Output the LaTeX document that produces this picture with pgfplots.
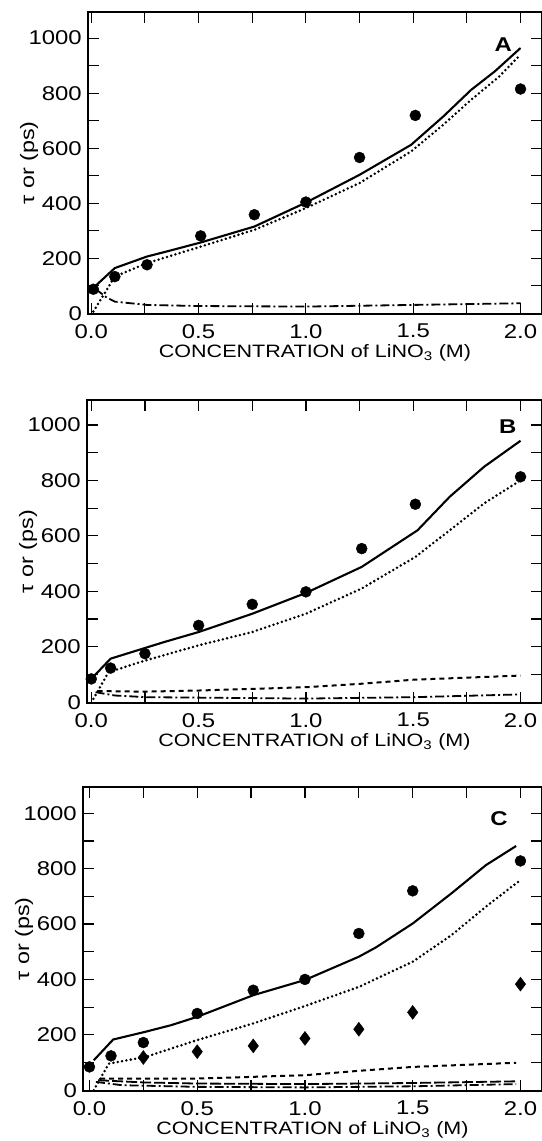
\documentclass[border=0pt]{standalone}
\usepackage{fontspec}
\setmainfont{Liberation Sans}[FakeStretch=1.2]
\usepackage{pgfplots}
\pgfplotsset{compat=1.18}

\pgfplotsset{
  panel/.style={
    scale only axis,
    font=\fontsize{18}{20}\selectfont,
    axis line style={line width=1.6bp},
    every tick/.style={line width=1.2bp, black},
    major tick length=11bp, minor tick length=11bp,
    tick align=inside,
    xtick={0,0.5,1,1.5,2}, minor xtick={0.25,0.75,1.25,1.75},
    xticklabels={0.0,0.5,1.0,1.5,2.0},
    ytick={0,200,400,600,800,1000}, minor ytick={100,300,500,700,900},
    yticklabels={0,200,400,600,800,1000},
    tick label style={font=\fontsize{20}{22}\selectfont, inner sep=1bp},
    xticklabel style={yshift=-9bp},
    yticklabel style={xshift=-5bp},
    label style={font=\fontsize{18}{20}\selectfont},
    ylabel={τ or (ps)},
    xlabel={CONCENTRATION of LiNO\textsubscript{3} (M)},
    xlabel style={yshift=-2bp},
    ylabel style={font=\fontsize{19.5}{22}\selectfont, yshift=-14bp},
    clip=false,
  },
  solidl/.style={black, line width=2.1bp, no marks},
  dotl/.style={black, line width=2.8bp, no marks, line cap=round, dash pattern=on 0bp off 4.4bp},
  dashdotl/.style={black, line width=1.8bp, no marks, dash pattern=on 9bp off 3bp on 2bp off 3bp},
  dashl/.style={black, line width=2bp, no marks, dash pattern=on 5bp off 4bp},
  longdashl/.style={black, line width=1.8bp, no marks, dash pattern=on 11bp off 3bp},
  dots/.style={black, only marks, mark=*, mark size=5.5bp},
  diam/.style={black, only marks, mark=diamond*, mark size=7bp},
}

\begin{document}
\begin{tikzpicture}
\useasboundingbox (0,0) rectangle (542bp,-1141bp);

% ---------------- Panel A ----------------
\begin{axis}[panel, at={(88bp,-314bp)}, anchor=south west,
  width=454bp, height=302bp, xmin=-0.015, xmax=2.1, ymin=-3, ymax=1095]
\addplot[solidl] coordinates {(0,85) (0.11,164) (0.26,206) (0.35,224) (0.51,257) (0.76,315) (1.0,402) (1.25,503) (1.49,612) (1.64,715) (1.77,812) (1.88,879) (2.0,964)};
\addplot[dotl] coordinates {(0.01,6) (0.11,133) (0.26,182) (0.51,242) (0.76,303) (1.0,382) (1.25,473) (1.49,588) (1.64,685) (1.77,776) (1.9,860) (2.0,940)};
\addplot[dashdotl] coordinates {(0.02,88) (0.07,58) (0.11,42) (0.26,30) (0.5,26) (1.0,24) (1.5,30) (2.0,36)};
\addplot[dots] coordinates {(0.01,87) (0.11,133) (0.26,176) (0.51,281) (0.76,358) (1.0,404) (1.25,566) (1.51,719) (2.0,815)};
\node[font=\bfseries\fontsize{20}{22}\selectfont] at (axis cs:1.92,975) {A};
\end{axis}

% ---------------- Panel B ----------------
\begin{axis}[panel, at={(87bp,-703bp)}, anchor=south west,
  width=455bp, height=303bp, xmin=-0.02, xmax=2.1, ymin=-3, ymax=1090]
\addplot[solidl] coordinates {(0,84) (0.09,157) (0.24,193) (0.34,217) (0.5,253) (0.75,319) (1.0,394) (1.26,488) (1.52,620) (1.67,741) (1.83,849) (2.0,943)};
\addplot[dotl] coordinates {(0.01,12) (0.08,108) (0.25,150) (0.5,205) (0.75,253) (1.0,319) (1.26,410) (1.51,524) (1.67,620) (1.83,717) (2.0,800)};
\addplot[dashl] coordinates {(0.03,40) (0.25,38) (0.5,42) (1.0,54) (1.25,66) (1.5,81) (2.0,96)};
\addplot[dashdotl] coordinates {(0.02,36) (0.11,24) (0.26,18) (1.0,13) (1.5,18) (2.0,28)};
\addplot[dots] coordinates {(0.0,84) (0.09,123) (0.25,175) (0.5,277) (0.75,353) (1.0,398) (1.26,554) (1.51,714) (2.0,813)};
\node[font=\bfseries\fontsize{20}{22}\selectfont] at (axis cs:1.94,993) {B};
\end{axis}

% ---------------- Panel C ----------------
\begin{axis}[panel, at={(83bp,-1091bp)}, anchor=south west,
  width=459bp, height=304bp, xmin=-0.03, xmax=2.1, ymin=-3, ymax=1095]
\addplot[solidl] coordinates {(0.02,108) (0.11,183) (0.26,211) (0.38,235) (0.5,265) (0.76,343) (1.0,398) (1.25,482) (1.33,516) (1.5,602) (1.68,711) (1.84,813) (1.98,882)};
\addplot[dotl] coordinates {(0.02,0) (0.09,96) (0.26,120) (0.5,181) (0.76,241) (1.0,304) (1.25,373) (1.5,464) (1.68,560) (1.84,663) (2.0,759)};
\addplot[dashl] coordinates {(0.05,42) (0.5,42) (1.0,54) (1.25,70) (1.5,84) (1.98,99)};
\addplot[longdashl] coordinates {(0.04,36) (0.25,28) (0.5,24) (1.0,22) (1.5,26) (1.98,32)};
\addplot[dashdotl] coordinates {(0.03,30) (0.15,18) (0.5,12) (1.0,10) (1.5,14) (1.98,22)};
\addplot[dots] coordinates {(0.0,84) (0.1,124) (0.25,172) (0.5,277) (0.76,361) (1.0,400) (1.25,566) (1.5,720) (2.0,828)};
\addplot[diam] coordinates {(0.25,118) (0.5,139) (0.76,160) (1.0,187) (1.25,220) (1.5,281) (2.0,383)};
\node[font=\bfseries\fontsize{20}{22}\selectfont] at (axis cs:1.9,982) {C};
\end{axis}
\end{tikzpicture}
\end{document}
